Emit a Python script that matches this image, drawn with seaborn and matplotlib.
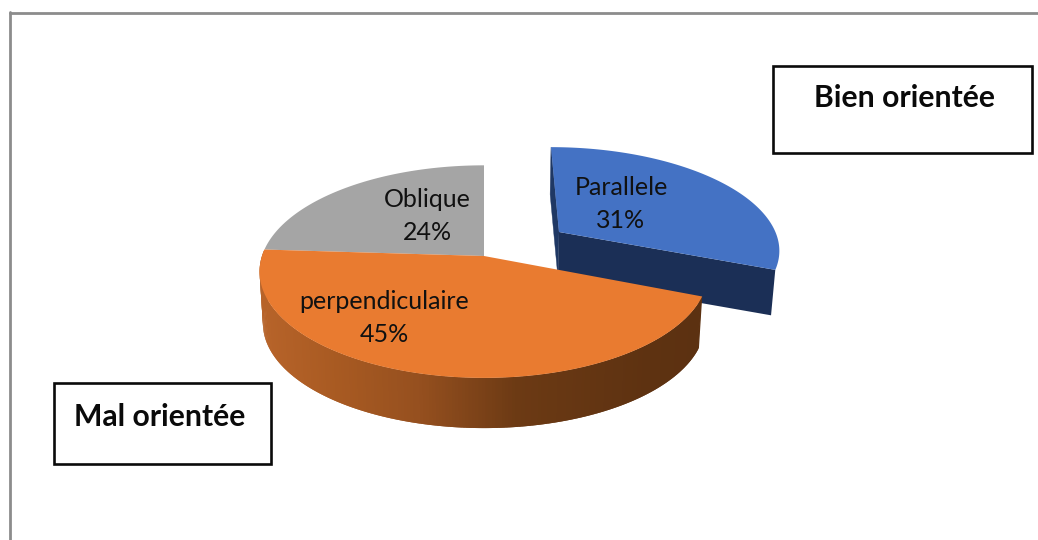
import numpy as np
import matplotlib
matplotlib.use("Agg")
import matplotlib.pyplot as plt
from matplotlib.patches import Polygon, Rectangle
from matplotlib.lines import Line2D
import seaborn as sns

# Shares of each orientation, clockwise from twelve o'clock
categories = ["Parallele", "perpendiculaire", "Oblique"]
shares = [31, 45, 24]
top_colors = ["#4472C4", "#E97B30", "#A5A5A5"]
annotations = ["Bien orientée", "Mal orientée"]

sns.set_theme(style="white")
plt.rcParams["font.family"] = ["Lato", "DejaVu Sans"]

fig = plt.figure(figsize=(10.38, 5.40), dpi=100, facecolor="white")
ax = fig.add_axes([0, 0, 1, 1])
ax.set_xlim(0, 1038)
ax.set_ylim(540, 0)
ax.axis("off")

# Cumulative slice boundaries in radians
edges = np.radians(np.cumsum([0] + shares) * 3.6)


def project(theta, apex, rx=222.0, ry=104.0, k=0.147, shear=0.0, scale=1.0, drop=0.0):
    """Tilted-disc projection: the far side of the pie is foreshortened."""
    u, v = np.sin(theta), np.cos(theta)
    w = 1 + k * v
    x = rx * scale * u / w
    y = -ry * scale * v / w
    return np.column_stack([apex[0] + x + shear * y, apex[1] + y + drop])


def rim(start, stop, **kw):
    return project(np.linspace(start, stop, 160), **kw)


def wedge(start, stop, **kw):
    apex = np.array([[kw["apex"][0], kw["apex"][1] + kw.get("drop", 0.0)]])
    return np.vstack([apex, rim(start, stop, **kw)])


# Pulled-out slice: drawn first so the larger slice overlaps its front face
blue = dict(apex=(559, 232), rx=229.0, ry=103.0, shear=0.094, scale=0.945)
blue_low = dict(apex=(558, 232), rx=229.0, ry=103.0, shear=0.094, scale=0.945 * 0.985, drop=46)
a0, a1 = edges[0], edges[1]
tip_top = project(np.array([a1]), **blue)[0]
tip_low = project(np.array([a1]), **blue_low)[0]
start_top = project(np.array([a0]), **blue)[0]
start_low = project(np.array([a0]), **blue_low)[0]
ax.add_patch(Polygon([start_top, blue["apex"], (558, 278), start_low],
                     fc="#1F3864", ec="#1F3864", lw=0.3, zorder=2))
ax.add_patch(Polygon([blue["apex"], tip_top, tip_low, (558, 278)],
                     fc="#1B2F56", ec="none", zorder=2))
ax.add_patch(Polygon(wedge(a0, a1, **blue), fc=top_colors[0], ec="none", zorder=3))

# Main disc
main = dict(apex=(484, 256))
main_low = dict(apex=(484, 256), scale=0.985, drop=52)
b0, b1 = edges[1], edges[2]

# Side wall of the large slice, shaded from left to right
stops_x = [258, 340, 420, 520, 650, 705]
stops_rgb = np.array([[0xB8, 0x64, 0x2A], [0xA8, 0x5A, 0x22], [0x96, 0x50, 0x1F],
                      [0x6C, 0x3A, 0x14], [0x5E, 0x32, 0x11], [0x5C, 0x31, 0x11]]) / 255
angles = np.linspace(b0, b1, 220)
upper = project(angles, **main)
lower = project(angles, **main_low)
for i in range(len(angles) - 2, -1, -1):
    # Each strip overlaps its neighbour so no seams show between them
    j = min(i + 2, len(angles) - 1)
    mid = (upper[i, 0] + upper[i + 1, 0]) / 2
    rgb = [np.interp(mid, stops_x, stops_rgb[:, c]) for c in range(3)]
    ax.add_patch(Polygon([upper[i], upper[j], lower[j], lower[i]],
                         fc=rgb, ec="none", zorder=4))

ax.add_patch(Polygon(wedge(edges[2], edges[3], **main), fc=top_colors[2], ec="none", zorder=5))
ax.add_patch(Polygon(wedge(b0, b1, **main), fc=top_colors[1], ec="none", zorder=6))

# Slice labels
label_pos = [(621, 204), (384, 318), (427, 216)]
for name, share, (lx, ly) in zip(categories, shares, label_pos):
    ax.text(lx, ly, f"{name}\n{share}%", ha="center", va="center", fontsize=18,
            color="#111111", linespacing=1.5, zorder=8)

# Annotation boxes
boxes = [(773, 66, 259, 87), (54, 383, 217, 81)]
text_pos = [(904, 98), (160, 417)]
for text, (bx, by, bw, bh), (tx, ty) in zip(annotations, boxes, text_pos):
    ax.add_patch(Rectangle((bx, by), bw, bh, fc="white", ec="#0a0a0a", lw=1.9, zorder=9))
    ax.text(tx, ty, text, ha="center", va="center", fontsize=21.7, fontweight="bold",
            color="#0a0a0a", zorder=10)

# Chart frame, open to the right and bottom
frame = "#8C8C8C"
ax.add_line(Line2D([10, 1038], [12.5, 12.5], color=frame, lw=2.0, zorder=1))
ax.add_line(Line2D([10, 10], [12, 540], color=frame, lw=2.0, zorder=1))

fig.savefig("out.png", dpi=100, facecolor="white")
